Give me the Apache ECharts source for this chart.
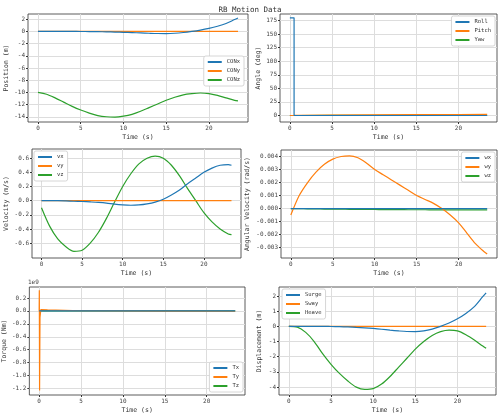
<!DOCTYPE html>
<html><head><meta charset="utf-8">
<script src="https://cdn.jsdelivr.net/npm/echarts@6/dist/echarts.min.js"></script>
<style>html,body{margin:0;padding:0;background:#fff}#c{width:500px;height:416px}</style>
</head><body><div id="c"></div>
<script>
const t = [0,1,2,3,4,5,6,7,8,9,10,11,12,13,14,15,16,17,18,19,20,21,22,23,23.4];
const conX = [0,0,0,0,0,-0.01,-0.02,-0.04,-0.07,-0.1,-0.14,-0.19,-0.25,-0.3,-0.34,-0.35,-0.3,-0.18,0,0.22,0.5,0.85,1.3,1.95,2.2];
const conY = t.map(()=>0);
const conZ = [-10,-10.3,-10.9,-11.6,-12.3,-12.9,-13.4,-13.8,-14.0,-14.05,-13.9,-13.6,-13.1,-12.5,-11.9,-11.3,-10.8,-10.4,-10.2,-10.1,-10.2,-10.5,-10.9,-11.3,-11.4];
const tRoll = [0,0.5,0.5,1,5,10,15,20,23.4];
const roll = [180,180,0,0,0,0,0,0,0];
const pitch = [0,0.1,0.2,0.3,0.8,1.3,1.6,1.8,1.9];
const yaw = [0,0,0,0,0.1,0.2,0.3,0.3,0.3];
const vx = [0,0,0,-0.003,-0.008,-0.012,-0.018,-0.025,-0.035,-0.05,-0.06,-0.065,-0.06,-0.045,-0.02,0.02,0.08,0.15,0.24,0.32,0.4,0.46,0.5,0.51,0.5];
const vy = t.map(()=>0);
const vz = [-0.1,-0.36,-0.54,-0.65,-0.715,-0.7,-0.6,-0.45,-0.25,-0.02,0.2,0.38,0.52,0.6,0.63,0.6,0.5,0.35,0.17,0,-0.17,-0.3,-0.4,-0.47,-0.48];
const wx = t.map(()=>0);
const wy = [-0.0005,0.001,0.002,0.0028,0.0034,0.0038,0.004,0.00405,0.0039,0.0035,0.003,0.0026,0.0022,0.0018,0.0014,0.001,0.0007,0.0004,0,-0.0005,-0.0011,-0.0019,-0.0027,-0.0033,-0.0035];
const wz = [0,-0.00001,-0.00002,-0.00003,-0.00004,-0.00005,-0.00005,-0.00006,-0.00006,-0.00007,-0.00007,-0.00008,-0.00008,-0.00008,-0.00009,-0.00009,-0.00009,-0.0001,-0.0001,-0.0001,-0.0001,-0.0001,-0.0001,-0.0001,-0.0001];
const tTq = [0,0.02,0.05,0.1,0.2,1,3,5,10,15,20,23.4];
const tqx = [0,0,0,0,0,0,0,0,0,0,0,0];
const tqy = [0,0.32,-1.23,-0.1,0.02,0.015,0.01,0.003,0,-0.002,-0.004,-0.005];
const tqz = [0,0,0,0,0,0,0,0,0,0,0,0];
const surge = conX;
const sway = t.map(()=>0);
const heave = [0,-0.05,-0.4,-1.0,-1.8,-2.5,-3.1,-3.6,-4.0,-4.15,-4.1,-3.8,-3.3,-2.7,-2.1,-1.5,-1.0,-0.6,-0.35,-0.25,-0.3,-0.55,-0.9,-1.3,-1.45];
const xTicks = [0,5,10,15,20];

const C = ['#1f77b4','#ff7f0e','#2ca02c'];
const F = 'DejaVu Sans Mono';
const panels = [
 {l:28,r:252,t:14,b:294, yn:'Position (m)', ymin:-14.86, ymax:2.86, yt:[-14,-12,-10,-8,-6,-4,-2,0,2], x:t, s:[['CONx',conX],['CONy',conY],['CONz',conZ]], leg:{right:256,top:56}},
 {l:280,r:3,t:14,b:294, yn:'Angle (deg)', ymin:-12, ymax:187, yt:[0,25,50,75,100,125,150,175], x:tRoll, s:[['Roll',roll],['Pitch',pitch],['Yaw',yaw]], leg:{right:5,top:16}},
 {l:32,r:259,t:149,b:158, yn:'Velocity (m/s)', ymin:-0.81, ymax:0.73, yt:[-0.6,-0.4,-0.2,0,0.2,0.4,0.6], x:t, s:[['vx',vx],['vy',vy],['vz',vz]], leg:{left:34,top:151}, fmt:v=>v.toFixed(1)},
 {l:281,r:3,t:150,b:158, yn:'Angular Velocity (rad/s)', ymin:-0.0038, ymax:0.0045, yt:[-0.003,-0.002,-0.001,0,0.001,0.002,0.003,0.004], x:t, s:[['wx',wx],['wy',wy],['wz',wz]], leg:{right:5,top:152}, fmt:v=>v.toFixed(3)},
 {l:28,r:255,t:287,b:21, yn:'Torque (Nm)', ymin:-1.3, ymax:0.37, yt:[-1.2,-1.0,-0.8,-0.6,-0.4,-0.2,0,0.2], x:tTq, s:[['Tx',tqx],['Ty',tqy],['Tz',tqz]], leg:{right:257,bottom:24}, fmt:v=>v.toFixed(1)},
 {l:279,r:4,t:287,b:21, yn:'Displacement (m)', ymin:-4.52, ymax:2.59, yt:[-4,-3,-2,-1,0,1,2], x:t, s:[['Surge',surge],['Sway',sway],['Heave',heave]], leg:{left:282,top:289}}
];
const grid=[],xAxis=[],yAxis=[],series=[],legend=[];
panels.forEach((p,i)=>{
  grid.push({left:p.l,right:p.r,top:p.t,bottom:p.b,show:true,borderColor:'#333',borderWidth:0.8,containLabel:false});
  xAxis.push({gridIndex:i,type:'value',min:-1.17,max:24.57,name:'Time (s)',nameLocation:'middle',nameGap:12,
    nameTextStyle:{fontFamily:F,fontSize:6.5,color:'#333'},axisLine:{show:false,onZero:false},
    axisTick:{show:true,customValues:xTicks,length:2,lineStyle:{color:'#333'}},
    axisLabel:{customValues:xTicks,fontFamily:F,fontSize:6,color:'#444',margin:3},
    splitLine:{show:true,lineStyle:{color:'#ddd',width:1}}});
  yAxis.push({gridIndex:i,type:'value',min:p.ymin,max:p.ymax,name:p.yn,nameLocation:'middle',
    nameGap: i==3?30:(i==2?22:16),
    nameTextStyle:{fontFamily:F,fontSize:6.5,color:'#333'},axisLine:{show:false,onZero:false},
    axisTick:{show:true,customValues:p.yt,length:2,lineStyle:{color:'#333'}},
    axisLabel:{customValues:p.yt,fontFamily:F,fontSize:6,color:'#444',margin:3,formatter:p.fmt||(v=>String(Math.round(v)))},
    splitLine:{show:true,lineStyle:{color:'#ddd',width:1}}});
  const names=[];
  p.s.forEach((s,j)=>{
    names.push(s[0]);
    series.push({type:'line',name:s[0],xAxisIndex:i,yAxisIndex:i,data:p.x.map((x,k)=>[x,s[1][k]]),
      showSymbol:false,smooth:(i==1||i==4)?false:0.3,lineStyle:{width:1.2,color:C[j]},itemStyle:{color:C[j]},z:3-j});
  });
  legend.push(Object.assign({orient:'vertical',data:names,itemWidth:14,itemHeight:2,itemGap:3,icon:'rect',
    backgroundColor:'#fff',borderColor:'#ccc',borderWidth:0.8,borderRadius:2,padding:[3,4],
    textStyle:{fontFamily:F,fontSize:5.5,color:'#333'}},p.leg));
});
const chart=echarts.init(document.getElementById('c'),null,{renderer:'canvas'});
chart.setOption({animation:false,color:C,
  title:{text:'RB Motion Data',left:'center',top:1,textStyle:{fontFamily:F,fontSize:7.5,fontWeight:'normal',color:'#333'}},
  graphic:[{type:'text',left:28,top:279,style:{text:'1e9',font:'6px "DejaVu Sans Mono"',fill:'#444'}}],
  grid,xAxis,yAxis,series,legend});
</script></body></html>
